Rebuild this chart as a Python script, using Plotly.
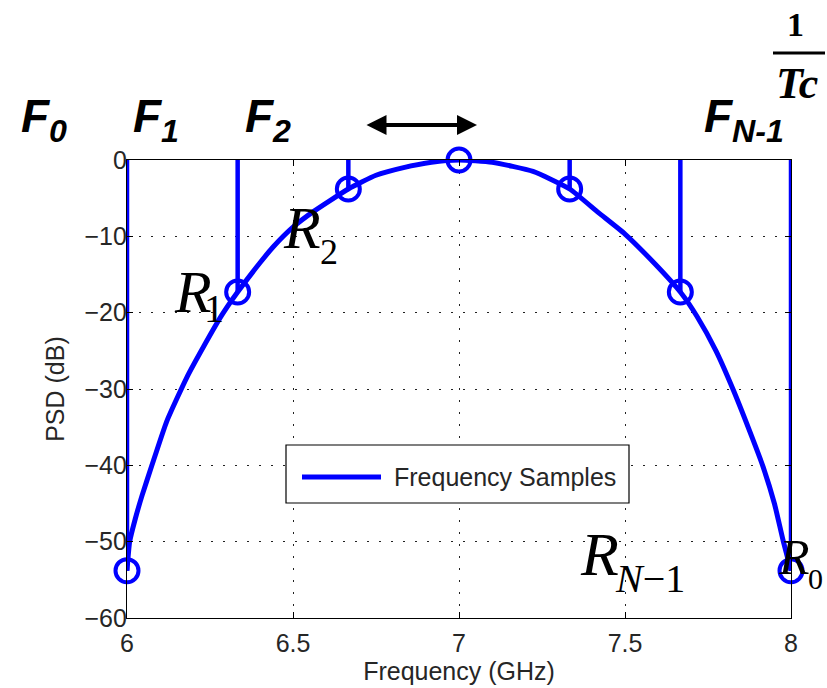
import plotly.graph_objects as go

# Sampled frequencies (GHz) and their PSD values (dB)
sample_freq = [6.0, 6.3333, 6.6667, 7.0, 7.3333, 7.6667, 8.0]
sample_psd = [-53.8, -17.3, -3.8, 0.0, -3.8, -17.3, -53.8]

# Continuous PSD curve across the band
curve_freq = [6.0, 6.008, 6.025, 6.045, 6.075, 6.12, 6.18, 6.23, 6.286, 6.3333,
              6.40, 6.44, 6.50, 6.56, 6.6667, 6.75, 6.833, 6.917, 7.0,
              7.1, 7.223, 7.3333, 7.42, 7.50, 7.59, 7.6667, 7.717, 7.774,
              7.825, 7.886, 7.916, 7.95, 7.976, 8.0]
curve_psd = [-53.8, -50.0, -47.0, -44.0, -40.0, -34.2, -28.5, -24.5, -20.3, -17.3,
             -13.5, -11.4, -8.8, -6.8, -3.8, -2.0, -1.0, -0.3, 0.0,
             -0.3, -1.5, -3.8, -6.9, -9.7, -13.6, -17.3, -20.5, -25.0,
             -30.0, -36.7, -40.2, -45.0, -49.8, -53.8]

x_ticks = [6, 6.5, 7, 7.5, 8]
y_ticks = [0, -10, -20, -30, -40, -50, -60]

BLUE = "#0000ff"
TXT = "#262626"
W, H = 827, 688
L, R, T, B = 127, 36, 160, 70
PW, PH = W - L - R, H - T - B


def px(X):
    return (X - L) / PW


def py(Y):
    return (H - B - Y) / PH


# Stems from 0 dB down to each sample
stem_x, stem_y = [], []
for f, v in zip(sample_freq, sample_psd):
    stem_x += [f, f, None]
    stem_y += [0, v, None]

fig = go.Figure()
fig.add_trace(go.Scatter(x=stem_x, y=stem_y, mode="lines",
                         line=dict(color=BLUE, width=4.5),
                         showlegend=False, hoverinfo="skip"))
fig.add_trace(go.Scatter(x=curve_freq, y=curve_psd, mode="lines",
                         line=dict(color=BLUE, width=5, shape="spline", smoothing=0.5),
                         showlegend=False))
fig.add_trace(go.Scatter(x=sample_freq, y=sample_psd, mode="markers",
                         marker=dict(symbol="circle-open", size=23, color=BLUE,
                                     line=dict(color=BLUE, width=4)),
                         cliponaxis=False, showlegend=False))

sans = "Liberation Sans, Arial"
serif = "Liberation Serif, Times New Roman"

axis_common = dict(showline=True, linecolor="black", linewidth=1.2, mirror="ticks",
                   ticks="inside", ticklen=6, tickcolor="black",
                   showgrid=True, gridcolor="#222222", griddash="2px,10px", gridwidth=1,
                   zeroline=False, automargin=False,
                   tickfont=dict(family=sans, size=25, color=TXT))

fig.update_xaxes(range=[6, 8], tickvals=x_ticks, ticktext=[str(v) for v in x_ticks],
                 ticklabelstandoff=3,
                 title=dict(text="Frequency (GHz)", standoff=4,
                            font=dict(family=sans, size=25, color=TXT)),
                 **axis_common)
fig.update_yaxes(range=[-60, 0], tickvals=y_ticks, ticklabelstandoff=-6,
                 title=dict(text="PSD (dB)", standoff=12,
                            font=dict(family=sans, size=25, color=TXT)),
                 **axis_common)

shapes = [
    # legend box
    dict(type="rect", xref="paper", yref="paper", x0=px(286), x1=px(629), y0=py(503), y1=py(445),
         line=dict(color="black", width=1.2), fillcolor="white", layer="above"),
    dict(type="line", xref="paper", yref="paper", x0=px(302), x1=px(381), y0=py(477), y1=py(477),
         line=dict(color=BLUE, width=5), layer="above"),
    # fraction bar of 1/Tc
    dict(type="line", xref="paper", yref="paper", x0=px(773), x1=px(825), y0=py(53), y1=py(53),
         line=dict(color="black", width=3)),
]

ann = []


def add_text(text, X, Y, size, family, xanchor="center", color="black"):
    ann.append(dict(text=text, x=px(X), y=py(Y), xref="paper", yref="paper",
                    xanchor=xanchor, yanchor="middle", showarrow=False,
                    font=dict(family=family, size=size, color=color)))


add_text("Frequency Samples", 392, 477, 25, sans, xanchor="left", color=TXT)

# Sample-frequency labels
add_text("<b><i>F<sub>0</sub></i></b>", 44, 119, 46, sans)
add_text("<b><i>F<sub>1</sub></i></b>", 156, 119, 46, sans)
add_text("<b><i>F<sub>2</sub></i></b>", 268, 119, 46, sans)
add_text("<b><i>F<sub>N-1</sub></i></b>", 744, 119, 46, sans)

# 1/Tc spacing
add_text("<b>1</b>", 795, 25, 34, serif)
add_text("<b><i>Tc</i></b>", 797, 83, 44, serif)

# R labels
add_text("<i>R</i>", 193, 292, 60, serif)
add_text("1", 214, 308, 40, serif)
add_text("<i>R</i>", 302, 228, 60, serif)
add_text("2", 329, 252, 36, serif)
add_text("<i>R</i>", 599, 554, 62, serif)
add_text("<i>N</i>\u22121", 650, 578, 40, serif)
add_text("<i>R</i>", 794, 557, 50, serif)
add_text("0", 815, 578, 30, serif)

# Double-headed arrow above the plot
ann.append(dict(x=px(477), y=py(125), xref="paper", yref="paper",
                ax=-112, ay=0, axref="pixel", ayref="pixel", text="",
                showarrow=True, arrowhead=2, arrowside="end+start",
                arrowsize=1.0, arrowwidth=4, arrowcolor="black"))

fig.update_layout(width=W, height=H, margin=dict(l=L, r=R, t=T, b=B),
                  plot_bgcolor="white", paper_bgcolor="white",
                  showlegend=False, shapes=shapes, annotations=ann)

fig.write_html("out.html")
